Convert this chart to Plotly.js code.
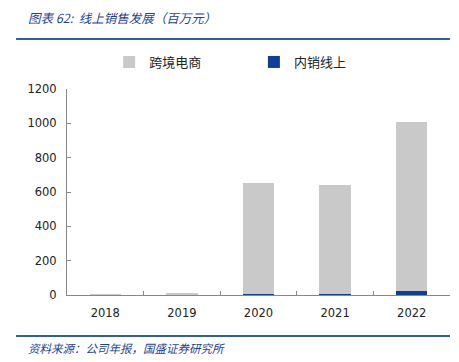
<!DOCTYPE html>
<html>
<head>
<meta charset="utf-8">
<script src="https://cdn.plot.ly/plotly-3.0.1.min.js"></script>
<style>html,body{margin:0;padding:0;background:#fff;}#chart{width:459px;height:362px;}</style>
</head>
<body>
<div id="chart"></div>
<script>
const years = ['2018', '2019', '2020', '2021', '2022'];
const crossBorder = [5, 13, 648, 635, 985];
const domesticOnline = [0, 0, 4, 4, 21];
const seriesNames = ['跨境电商', '内销线上'];
const chartTitle = '图表 62:  线上销售发展（百万元）';
const sourceText = '资料来源：公司年报，国盛证券研究所';

const cjk = '"Noto Sans CJK SC", "DejaVu Sans", sans-serif';
const traces = [
  {type: 'bar', name: seriesNames[1], x: years, y: domesticOnline, marker: {color: '#0b3f99'}, legend: 'legend2', width: 0.41},
  {type: 'bar', name: seriesNames[0], x: years, y: crossBorder, marker: {color: '#c9c9c9'}, legend: 'legend', width: 0.41}
];
const legendBase = {orientation: 'h', y: 1.131, xanchor: 'left', yanchor: 'middle',
  bgcolor: 'rgba(0,0,0,0)', font: {family: cjk, size: 13, color: '#222'}, itemwidth: 12};
const layout = {
  width: 459, height: 362,
  margin: {l: 67, r: 9, t: 89, b: 67},
  barmode: 'stack',
  paper_bgcolor: '#fff', plot_bgcolor: '#fff',
  showlegend: true,
  legend: Object.assign({}, legendBase, {x: 0.11}),
  legend2: Object.assign({}, legendBase, {x: 0.488}),
  xaxis: {type: 'category', showgrid: false, showline: true, linecolor: '#888', linewidth: 1,
    ticks: 'inside', tickson: 'boundaries', ticklen: 4, tickcolor: '#888', ticklabelstandoff: 7,
    tickfont: {family: '"DejaVu Sans", sans-serif', size: 11.5, color: '#222'}, fixedrange: true},
  yaxis: {range: [0, 1200], dtick: 200, showgrid: false, showline: true, linecolor: '#888', linewidth: 1,
    ticks: 'inside', ticklen: 4, tickcolor: '#888', zeroline: false, ticklabelstandoff: 7,
    tickfont: {family: '"DejaVu Sans", sans-serif', size: 11.5, color: '#222'}, fixedrange: true},
  shapes: [
    {type: 'line', xref: 'paper', yref: 'paper', x0: -0.133, x1: 1.0, y0: 1.2427, y1: 1.2427, line: {color: '#2e5ea8', width: 2}},
    {type: 'line', xref: 'paper', yref: 'paper', x0: -0.133, x1: 1.0, y0: -0.199, y1: -0.199, line: {color: '#2e5ea8', width: 2}}
  ],
  annotations: [
    {xref: 'paper', yref: 'paper', x: -0.107, y: 1.345, xanchor: 'left', yanchor: 'middle', showarrow: false,
      text: chartTitle, font: {family: cjk, size: 12.5, color: '#1f3f93', style: 'italic'}},
    {xref: 'paper', yref: 'paper', x: -0.107, y: -0.255, xanchor: 'left', yanchor: 'middle', showarrow: false,
      text: sourceText, font: {family: cjk, size: 11.5, color: '#1f3f93', style: 'italic'}}
  ],
  hovermode: false
};
Plotly.newPlot('chart', traces, layout, {displayModeBar: false, staticPlot: true});
</script>
</body>
</html>
